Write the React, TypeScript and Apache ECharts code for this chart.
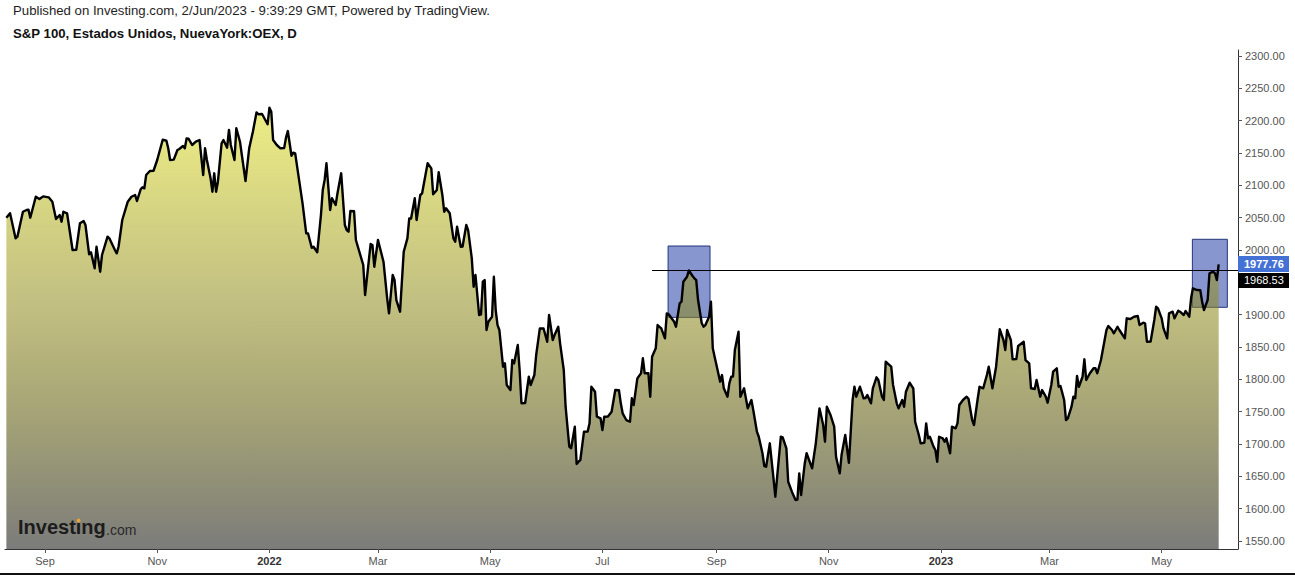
import React, { useEffect, useRef } from "react";
import * as echarts from "echarts";

// Daily closes of the S&P 100 (OEX). Days are counted from 2021-09-01.
const BASE_DATE = "2021-09-01";
const dayOffsets = [
  -21, -19, -16, -15, -12, -10, -9, -8, -5, -3, -1, 2, 4, 6, 8, 9, 10, 12, 15, 17,
  19, 21, 22, 24, 25, 27, 28, 30, 31, 34, 35, 38, 39, 40, 42, 45, 47, 49, 50, 52,
  53, 54, 55, 57, 59, 61, 64, 66, 67, 68, 70, 72, 73, 75, 76, 77, 78, 80, 82, 84,
  86, 87, 88, 90, 91, 92, 93, 94, 96, 97, 99, 100, 101, 103, 104, 106, 107, 109, 111, 113,
  115, 116, 118, 121, 122, 123, 124, 126, 128, 130, 131, 132, 134, 135, 136, 138, 140, 142, 143, 145,
  146, 148, 150, 151, 152, 153, 155, 156, 158, 159, 161, 163, 164, 165, 166, 168, 169, 173, 174, 177,
  178, 179, 181, 184, 186, 187, 189, 190, 191, 193, 195, 197, 198, 199, 201, 202, 204, 205, 206, 208,
  210, 211, 213, 214, 216, 217, 218, 220, 222, 223, 224, 226, 227, 229, 230, 232, 233, 234, 236, 237,
  238, 239, 240, 241, 243, 244, 245, 246, 247, 249, 250, 251, 253, 254, 255, 257, 258, 259, 261, 263,
  264, 266, 267, 269, 271, 273, 274, 276, 277, 279, 280, 282, 283, 285, 286, 288, 289, 290, 291, 293,
  295, 296, 297, 299, 300, 302, 303, 304, 306, 308, 310, 312, 313, 314, 316, 318, 319, 320, 322, 324,
  325, 326, 328, 329, 330, 332, 333, 335, 337, 338, 339, 342, 343, 345, 346, 347, 349, 350, 352, 353,
  354, 355, 357, 358, 359, 361, 362, 363, 364, 365, 367, 368, 369, 371, 372, 373, 374, 375, 377, 378,
  380, 382, 384, 385, 387, 388, 390, 391, 392, 394, 396, 397, 398, 400, 401, 403, 404, 406, 408, 409,
  410, 411, 413, 414, 417, 419, 421, 423, 424, 425, 427, 429, 430, 432, 433, 435, 437, 439, 440, 441,
  443, 445, 446, 447, 449, 450, 452, 453, 455, 456, 457, 458, 460, 461, 463, 464, 466, 467, 468, 470,
  472, 473, 475, 476, 478, 479, 480, 481, 483, 484, 485, 486, 488, 489, 490, 492, 493, 495, 496, 497,
  499, 501, 502, 504, 505, 507, 508, 510, 512, 513, 515, 517, 519, 521, 522, 523, 525, 526, 528, 529,
  532, 533, 535, 536, 538, 539, 541, 542, 544, 545, 547, 548, 550, 551, 552, 554, 555, 556, 558, 559,
  560, 561, 562, 564, 565, 566, 568, 570, 571, 572, 574, 575, 577, 578, 580, 581, 583, 584, 587, 588,
  590, 592, 594, 595, 597, 598, 599, 601, 603, 604, 605, 607, 608, 610, 611, 613, 614, 616, 617, 619,
  620, 622, 623, 624, 626, 628, 629, 630, 632, 633, 635, 636, 637, 638,
];
const closes = [
  2050.0, 2056.8, 2018.1, 2020.6, 2059.2, 2061.9, 2062.5, 2050.0, 2082.4, 2078.9, 2083.0, 2081.5, 2074.7, 2048.0, 2054.1, 2043.8, 2059.2, 2056.8, 2000.0, 2000.4,
  2041.3, 2044.9, 2038.7, 1993.4, 1996.5, 1971.7, 2005.1, 1966.5, 1992.3, 2020.6, 2018.1, 2000.0, 1994.9, 2005.1, 2046.4, 2074.7, 2082.4, 2085.1, 2075.8, 2093.9,
  2097.0, 2095.4, 2116.0, 2122.2, 2122.6, 2139.2, 2170.6, 2169.0, 2157.3, 2139.2, 2139.8, 2154.6, 2156.2, 2160.8, 2157.3, 2172.7, 2172.2, 2162.4, 2167.5, 2170.1,
  2116.0, 2157.3, 2139.2, 2110.9, 2090.2, 2118.6, 2090.2, 2105.6, 2165.0, 2170.1, 2158.2, 2185.6, 2162.4, 2139.2, 2188.2, 2167.5, 2146.9, 2106.7, 2157.3, 2182.9,
  2212.9, 2209.9, 2210.3, 2194.4, 2220.1, 2213.9, 2170.1, 2162.4, 2157.3, 2157.6, 2173.7, 2184.0, 2145.8, 2150.5, 2149.5, 2110.9, 2072.2, 2025.8, 2025.5, 2003.6,
  2005.1, 1996.5, 2054.1, 2092.8, 2108.3, 2134.1, 2061.9, 2080.0, 2069.6, 2087.7, 2118.6, 2038.7, 2030.9, 2028.3, 2060.3, 2060.0, 2015.5, 1976.8, 1930.4, 2009.3,
  2007.8, 1974.2, 2015.5, 1981.9, 1925.3, 1902.1, 1961.4, 1953.6, 1922.7, 1904.6, 1997.4, 2018.1, 2049.0, 2048.7, 2080.0, 2046.4, 2085.1, 2087.7, 2103.2, 2134.1,
  2126.3, 2086.1, 2092.8, 2120.2, 2085.1, 2059.2, 2064.5, 2056.8, 2018.1, 2012.9, 2036.0, 2005.1, 2005.4, 2038.7, 2030.9, 1987.2, 1943.3, 1961.4, 1899.5, 1900.6,
  1951.0, 1953.6, 1876.3, 1889.1, 1896.9, 1958.7, 1907.2, 1884.0, 1876.3, 1819.6, 1824.8, 1791.3, 1783.5, 1829.9, 1824.8, 1853.1, 1814.5, 1763.0, 1763.4, 1804.1,
  1791.3, 1806.7, 1837.7, 1878.9, 1878.6, 1858.2, 1899.5, 1860.9, 1868.6, 1881.4, 1855.7, 1814.5, 1757.7, 1695.9, 1693.4, 1726.8, 1669.1, 1672.7, 1675.3, 1719.1,
  1719.4, 1732.0, 1788.6, 1780.9, 1742.3, 1739.8, 1721.7, 1742.3, 1742.6, 1750.0, 1783.5, 1783.2, 1763.0, 1747.5, 1737.1, 1734.5, 1770.7, 1760.3, 1801.6, 1809.4,
  1832.6, 1809.4, 1809.7, 1773.2, 1835.0, 1848.0, 1884.0, 1878.9, 1863.5, 1902.1, 1900.6, 1889.1, 1881.4, 1917.6, 1920.1, 1951.0, 1958.7, 1968.5, 1959.8, 1956.3,
  1953.6, 1922.7, 1886.7, 1881.4, 1884.0, 1896.9, 1920.1, 1848.0, 1835.0, 1822.2, 1796.4, 1806.7, 1786.2, 1773.2, 1793.9, 1804.1, 1804.4, 1845.4, 1873.7, 1773.2,
  1786.2, 1755.2, 1768.1, 1752.6, 1719.1, 1711.3, 1685.7, 1666.0, 1664.9, 1701.1, 1647.0, 1618.5, 1649.5, 1711.3, 1710.4, 1693.4, 1641.7, 1626.3, 1613.4, 1614.0,
  1654.7, 1621.2, 1670.2, 1685.7, 1662.5, 1701.1, 1755.2, 1729.4, 1703.6, 1757.7, 1744.9, 1726.8, 1680.4, 1654.7, 1683.0, 1714.0, 1671.1, 1768.1, 1788.6, 1773.2,
  1788.6, 1770.7, 1771.0, 1775.8, 1763.0, 1786.2, 1803.2, 1799.0, 1773.2, 1768.1, 1827.3, 1824.8, 1819.6, 1791.3, 1763.0, 1755.2, 1768.1, 1757.7, 1780.9, 1794.8,
  1786.2, 1734.5, 1714.0, 1701.1, 1702.0, 1732.0, 1708.8, 1711.3, 1695.9, 1690.8, 1672.7, 1711.3, 1708.8, 1703.6, 1708.8, 1685.7, 1726.8, 1724.3, 1732.0, 1760.3,
  1768.1, 1773.2, 1770.0, 1737.1, 1729.4, 1770.0, 1788.6, 1786.2, 1806.7, 1819.6, 1786.2, 1819.6, 1877.4, 1860.9, 1845.4, 1876.3, 1860.9, 1831.0, 1831.3, 1851.6,
  1858.2, 1829.9, 1824.8, 1786.2, 1785.1, 1799.0, 1773.2, 1783.5, 1773.2, 1763.9, 1791.3, 1811.8, 1817.1, 1788.6, 1789.7, 1768.1, 1737.1, 1739.8, 1757.7, 1773.2,
  1770.7, 1805.2, 1788.6, 1804.1, 1831.0, 1799.0, 1809.4, 1817.1, 1817.4, 1809.4, 1829.9, 1845.4, 1876.3, 1882.5, 1876.3, 1871.2, 1881.4, 1876.3, 1863.5, 1894.4,
  1893.3, 1896.9, 1898.0, 1884.0, 1887.6, 1886.7, 1858.2, 1858.5, 1891.8, 1912.3, 1909.9, 1894.4, 1878.9, 1863.5, 1902.1, 1904.6, 1894.4, 1906.2, 1904.6, 1899.5,
  1905.7, 1896.9, 1925.3, 1940.8, 1938.2, 1938.0, 1920.1, 1907.2, 1922.7, 1964.0, 1966.5, 1964.0, 1953.6, 1977.76,
];

const priceTicks = [1550, 1600, 1650, 1700, 1750, 1800, 1850, 1900, 1950, 2000, 2050, 2100, 2150, 2200, 2250, 2300];
const monthTickDates = [
  "2021-09-01", "2021-11-01", "2022-01-01", "2022-03-01", "2022-05-01", "2022-07-01",
  "2022-09-01", "2022-11-01", "2023-01-01", "2023-03-01", "2023-05-01",
];
const monthTickLabels = ["Sep", "Nov", "2022", "Mar", "May", "Jul", "Sep", "Nov", "2023", "Mar", "May"];

const lastPrice = 1977.76;
const levelPrice = 1968.53;
const levelStartDay = 330;
// drawn rectangles (days from BASE_DATE, prices)
const boxStart = [338.7, 623.7];
const boxEnd = [361.5, 642.7];
const boxTop = [2006.2, 2016.6];
const boxBottom = [1895.9, 1911.4];

const axisMinDay = -21.74;
const axisMaxDay = 648.5;
const yMin = 1537.7;
const yMax = 2309.3;

const DAY = 86400000;
const baseTime = Date.parse(BASE_DATE);

export default function App() {
  const ref = useRef<HTMLDivElement>(null);

  useEffect(() => {
    if (!ref.current) return;
    const chart = echarts.init(ref.current, null, { renderer: "svg" });
    const monthDays = monthTickDates.map((s) => Math.round((Date.parse(s) - baseTime) / DAY));
    const seriesData = dayOffsets.map((d, i) => [d, closes[i]]);

    const font = "Arial, 'Liberation Sans', sans-serif";

    chart.setOption({
      animation: false,
      backgroundColor: "#ffffff",
      grid: { left: 5, right: 57, top: 50, bottom: 26 },
      xAxis: {
        type: "value",
        min: axisMinDay,
        max: axisMaxDay,
        axisLine: { show: true, onZero: false, lineStyle: { color: "#333", width: 1 } },
        axisTick: { show: true, customValues: monthDays, length: 4, lineStyle: { color: "#555" } },
        splitLine: { show: false },
        axisLabel: {
          customValues: monthDays,
          margin: 6,
          color: "#555",
          fontSize: 11,
          fontFamily: font,
          formatter: (v: number) => {
            const idx = monthDays.indexOf(Math.round(v));
            const lab = idx >= 0 ? monthTickLabels[idx] : "";
            return /^\d+$/.test(lab) ? `{yr|${lab}}` : lab;
          },
          rich: { yr: { fontWeight: "bold", color: "#333", fontSize: 11, fontFamily: font } },
        },
      },
      yAxis: {
        type: "value",
        position: "right",
        min: yMin,
        max: yMax,
        axisLine: { show: true, onZero: false, lineStyle: { color: "#333", width: 1 } },
        axisTick: { show: true, customValues: priceTicks, length: 4, lineStyle: { color: "#555" } },
        splitLine: { show: false },
        axisLabel: {
          customValues: priceTicks,
          margin: 7,
          color: "#555",
          fontSize: 11,
          fontFamily: font,
          formatter: (v: number) => v.toFixed(2),
        },
      },
      series: [
        {
          type: "line",
          data: seriesData,
          showSymbol: false,
          symbol: "none",
          z: 3,
          lineStyle: { color: "#000", width: 2.4, join: "round" },
          areaStyle: {
            opacity: 1,
            color: new echarts.graphic.LinearGradient(0, 0, 0, 1, [
              { offset: 0, color: "rgba(226,226,52,0.6)" },
              { offset: 0.45, color: "rgba(142,138,26,0.55)" },
              { offset: 1, color: "rgba(112,112,112,0.92)" },
            ]),
          },
          markArea: {
            silent: true,
            itemStyle: { color: "#8796cf", borderColor: "#24357a", borderWidth: 1 },
            data: boxStart.map((s, i) => [
              { coord: [s, boxTop[i]] },
              { coord: [boxEnd[i], boxBottom[i]] },
            ]),
          },
          markLine: {
            silent: true,
            symbol: ["none", "none"],
            label: { show: false },
            lineStyle: { color: "#000", width: 1, type: "solid" },
            data: [[{ coord: [levelStartDay, levelPrice] }, { coord: [axisMaxDay, levelPrice] }]],
          },
        },
      ],
    });

    const py = chart.convertToPixel({ yAxisIndex: 0 }, lastPrice) as number;
    const axisX = 1295 - 57;

    chart.setOption({
      graphic: [
        {
          type: "text",
          left: 13,
          top: 4,
          style: {
            text: "Published on Investing.com, 2/Jun/2023 - 9:39:29 GMT, Powered by TradingView.",
            font: `13.2px ${font}`,
            fill: "#1e1e1e",
          },
        },
        {
          type: "text",
          left: 13,
          top: 27,
          style: {
            text: "S&P 100, Estados Unidos, NuevaYork:OEX, D",
            font: `bold 13.2px ${font}`,
            fill: "#111",
          },
        },
        {
          type: "text",
          x: 18,
          y: 527,
          z: 100,
          style: {
            text: "Investing",
            font: `bold 20px ${font}`,
            fill: "#1c1c1c",
            verticalAlign: "middle",
          },
        },
        {
          type: "circle",
          z: 101,
          shape: { cx: 78.6, cy: 520.5, r: 2 },
          style: { fill: "#e8a53a" },
        },
        {
          type: "text",
          x: 106,
          y: 530,
          z: 100,
          style: {
            text: ".com",
            font: `14px ${font}`,
            fill: "#2a2a2a",
            verticalAlign: "middle",
          },
        },
        {
          type: "rect",
          z: 100,
          shape: { x: axisX, y: py - 8.5, width: 51, height: 16 },
          style: { fill: "#4471d6" },
        },
        {
          type: "text",
          z: 101,
          x: axisX + 6,
          y: py,
          style: { text: lastPrice.toFixed(2), font: `bold 11px ${font}`, fill: "#fff", verticalAlign: "middle" },
        },
        {
          type: "rect",
          z: 100,
          shape: { x: axisX, y: py + 8.5, width: 51, height: 15 },
          style: { fill: "#000" },
        },
        {
          type: "text",
          z: 101,
          x: axisX + 6,
          y: py + 16,
          style: { text: levelPrice.toFixed(2), font: `11px ${font}`, fill: "#fff", verticalAlign: "middle" },
        },
        {
          type: "rect",
          z: 100,
          shape: { x: 0, y: 573, width: 1295, height: 2 },
          style: { fill: "#111" },
        },
      ],
    });

    return () => chart.dispose();
  }, []);

  return <div ref={ref} style={{ position: "absolute", left: 0, top: 0, width: 1295, height: 575 }} />;
}
